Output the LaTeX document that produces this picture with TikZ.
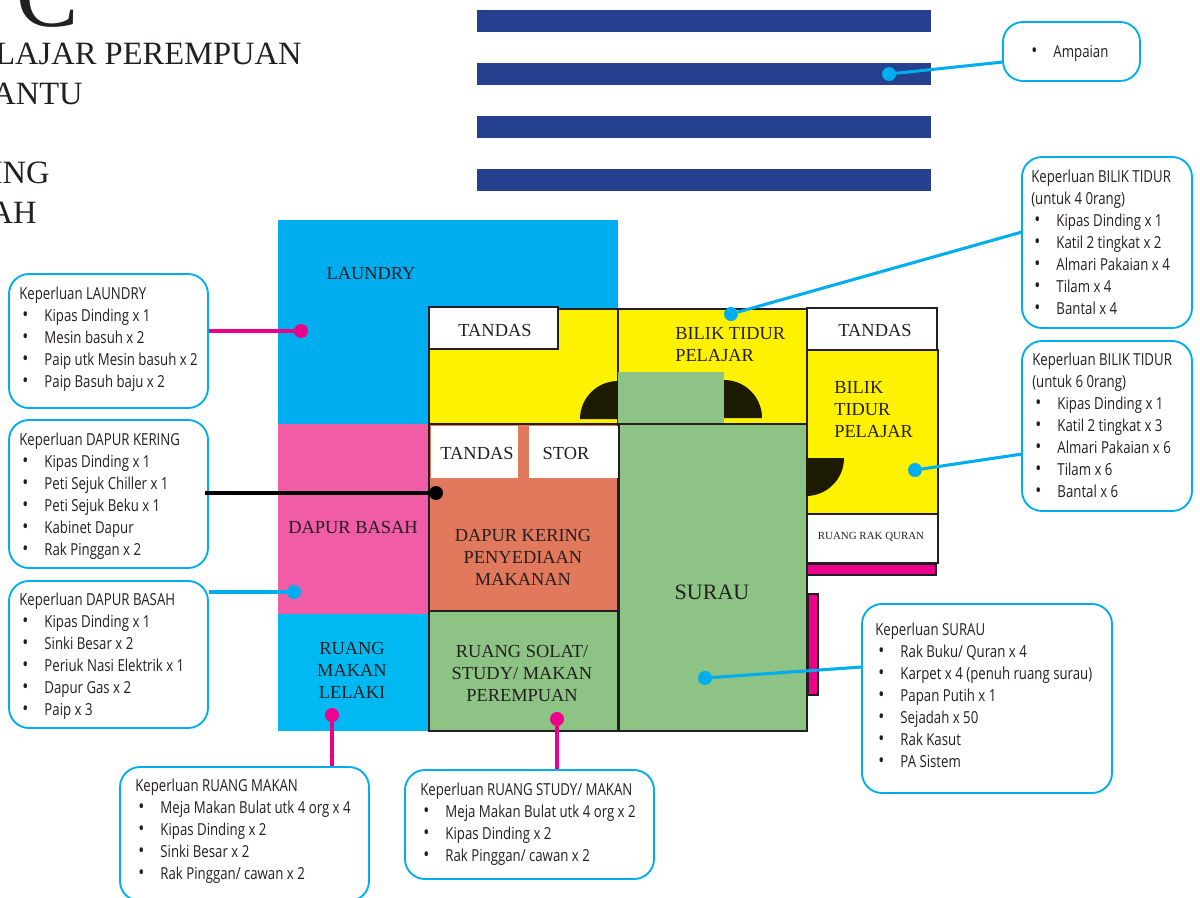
\documentclass[tikz,border=0pt]{standalone}
\usepackage{fontspec}
\setmainfont{Liberation Serif}
\newfontfamily\cond[FakeStretch=0.80]{Open Sans}
\usetikzlibrary{calc}
\definecolor{ink}{HTML}{231F20}
\definecolor{stripe}{HTML}{25408F}
\definecolor{cyanA}{HTML}{00AEEF}
\definecolor{cyanB}{HTML}{00B9F2}
\definecolor{pinkA}{HTML}{F05CA5}
\definecolor{magA}{HTML}{EC008C}
\definecolor{yel}{HTML}{FFF200}
\definecolor{grn}{HTML}{8DC384}
\definecolor{terra}{HTML}{E2795D}
\definecolor{blackish}{HTML}{1C1A00}
\newcommand{\kit}[1]{\makebox[18.9pt][l]{\hspace{2.4pt}{\fontsize{15}{16.5}\selectfont •}}#1}
\newcommand{\callout}[8]{%
  \node[calloutbox,minimum width={(#4-#2)*0.75pt},minimum height={(#5-#3)*0.75pt}] (#1) at ({(#2+#4)/2},{(#3+#5)/2}) {};
  \node[callouttext] (#1t) at (#6,#7) {#8};}
\tikzset{
  room/.style={draw=ink,line width=1.1pt},
  calloutbox/.style={draw=cyanA,line width=1.4pt,rounded corners=15pt,fill=white,inner sep=0pt},
  callouttext/.style={anchor=north west,inner sep=0pt,align=left,text=ink,font=\cond\fontsize{12.4}{16.5}\selectfont},
  lab/.style={inner sep=0pt,align=center,text=ink,font=\fontsize{13.8}{16.5}\selectfont},
  labl/.style={inner sep=0pt,align=left,anchor=west,text=ink,font=\fontsize{13.8}{16.5}\selectfont},
  head/.style={inner sep=0pt,anchor=base east,text=ink,font=\fontsize{24.4}{30}\selectfont},
  dot/.style={circle,inner sep=0pt,minimum size=10.5pt},
  wire/.style={line width=2.3pt},
}
\begin{document}
\begin{tikzpicture}[x=0.75pt,y=-0.75pt]
\useasboundingbox (0,0) rectangle (1200,897);
% title
\node[inner sep=0pt,anchor=base,text=ink,font=\fontsize{70}{70}\selectfont] (bigc) at (48,26) {C};
\node[head] (t1) at (302,64) {LAJAR PEREMPUAN};
\node[head] (t2) at (83,104) {ANTU};
\node[head] (t3) at (50,183) {ING};
\node[head] (t4) at (37,223) {AH};
% stripes
\foreach \y in {10,63,116,169} \fill[stripe] (477,\y) rectangle (931,{\y+22});
% floods
\fill[cyanA] (278,220) rectangle (618,424);
\fill[pinkA] (278,424) rectangle (429,614);
\fill[cyanB] (278,614) rectangle (429,731);
% rooms
\draw[room,fill=yel] (429,309) rectangle (618,424);
\draw[room,fill=yel] (618,309) rectangle (807,424);
\draw[room,fill=white] (429,307) rectangle (558,349);
\fill[blackish] (580,419) arc (180:270:38) -- (618,419) -- cycle;
\fill[blackish] (762,418) arc (0:-90:38) -- (724,418) -- cycle;
\fill[grn] (618,372) rectangle (724,424);
\draw[room,fill=yel] (807,350) rectangle (938,514);
\draw[room,fill=white] (807,308) rectangle (937,350);
\draw[room,fill=white] (807,514) rectangle (938,563);
\draw[room,fill=magA] (807,564) rectangle (936,575);
\draw[room,fill=magA] (808,594) rectangle (818,695);
\draw[room,fill=terra] (429,424) rectangle (618,611);
\fill[white] (431,426) rectangle (518,478);
\fill[white] (529,426) rectangle (618,478);
\draw[room,fill=grn] (429,611) rectangle (618,731);
\draw[room,fill=grn] (619,424) rectangle (807,731);
\fill[blackish] (806,458) -- (844,458) arc (0:90:38) -- cycle;
% room labels
\node[lab] (r1) at (371,274) {LAUNDRY};
\node[lab] (r2) at (495,330) {TANDAS};
\node[labl] (r3) at (675,345) {BILIK TIDUR\\PELAJAR};
\node[lab] (r4) at (875,330) {TANDAS};
\node[labl] (r5) at (834,410) {BILIK\\TIDUR\\PELAJAR};
\node[lab,font=\fontsize{8.2}{10}\selectfont] (r6) at (871,537) {RUANG RAK QURAN};
\node[lab] (r7) at (477,453) {TANDAS};
\node[lab] (r8) at (566,453) {STOR};
\node[lab] (r9) at (353,527) {DAPUR BASAH};
\node[lab] (r10) at (523,557) {DAPUR KERING\\PENYEDIAAN\\MAKANAN};
\node[lab,font=\fontsize{16.5}{20}\selectfont] (r11) at (712,592) {SURAU};
\node[lab] (r12) at (352,670) {RUANG\\MAKAN\\LELAKI};
\node[lab] (r13) at (522,673) {RUANG SOLAT/\\STUDY/ MAKAN\\PEREMPUAN};
% callouts
\callout{cAmp}{1003}{22}{1140}{81}{1028}{45}{\kit{Ampaian}}
\callout{cB4}{1022}{157}{1192}{328}{1031}{170}{Keperluan BILIK TIDUR\\(untuk 4 0rang)\\\kit{Kipas Dinding x 1}\\\kit{Katil 2 tingkat x 2}\\\kit{Almari Pakaian x 4}\\\kit{Tilam x 4}\\\kit{Bantal x 4}}
\callout{cB6}{1022}{341}{1192}{511}{1032}{353}{Keperluan BILIK TIDUR\\(untuk 6 0rang)\\\kit{Kipas Dinding x 1}\\\kit{Katil 2 tingkat x 3}\\\kit{Almari Pakaian x 6}\\\kit{Tilam x 6}\\\kit{Bantal x 6}}
\callout{cSur}{862}{604}{1112}{793}{875}{623}{Keperluan SURAU\\\kit{Rak Buku/ Quran x 4}\\\kit{Karpet x 4 (penuh ruang surau)}\\\kit{Papan Putih x 1}\\\kit{Sejadah x 50}\\\kit{Rak Kasut}\\\kit{PA Sistem}}
\callout{cLau}{9}{274}{208}{408}{19}{287}{Keperluan LAUNDRY\\\kit{Kipas Dinding x 1}\\\kit{Mesin basuh x 2}\\\kit{Paip utk Mesin basuh x 2}\\\kit{Paip Basuh baju x 2}}
\callout{cKer}{9}{420}{208}{568}{19}{433}{Keperluan DAPUR KERING\\\kit{Kipas Dinding x 1}\\\kit{Peti Sejuk Chiller x 1}\\\kit{Peti Sejuk Beku x 1}\\\kit{Kabinet Dapur}\\\kit{Rak Pinggan x 2}}
\callout{cBas}{9}{581}{208}{728}{19}{593}{Keperluan DAPUR BASAH\\\kit{Kipas Dinding x 1}\\\kit{Sinki Besar x 2}\\\kit{Periuk Nasi Elektrik x 1}\\\kit{Dapur Gas x 2}\\\kit{Paip x 3}}
\callout{cMak}{120}{767}{369}{901}{135}{779}{Keperluan RUANG MAKAN\\\kit{Meja Makan Bulat utk 4 org x 4}\\\kit{Kipas Dinding x 2}\\\kit{Sinki Besar x 2}\\\kit{Rak Pinggan/ cawan x 2}}
\callout{cStu}{405}{770}{654}{879}{420}{783}{Keperluan RUANG STUDY/ MAKAN\\\kit{Meja Makan Bulat utk 4 org x 2}\\\kit{Kipas Dinding x 2}\\\kit{Rak Pinggan/ cawan x 2}}
% dots
\node[dot,fill=cyanA] (dAmp) at (889,74) {};
\node[dot,fill=cyanA] (dB4) at (731,314) {};
\node[dot,fill=cyanA] (dB6) at (915,470) {};
\node[dot,fill=cyanA] (dSur) at (705,678) {};
\node[dot,fill=magA] (dLau) at (301,331) {};
\node[dot,fill=black] (dKer) at (436,493) {};
\node[dot,fill=cyanA] (dBas) at (294,592) {};
\node[dot,fill=magA] (dMak) at (332,715) {};
\node[dot,fill=magA] (dStu) at (557,719) {};
% connector ends on the boxes
\coordinate (eAmp) at (1003,62);
\coordinate (eB4) at (1022,232);
\coordinate (eB6) at (1022,454);
\coordinate (eSur) at (862,667);
\coordinate (eKer) at (205,493);
% connectors
\draw[wire,cyanA] (eAmp) -- (dAmp);
\draw[wire,cyanA] (eB4) -- (dB4);
\draw[wire,cyanA] (eB6) -- (dB6);
\draw[wire,cyanA] (eSur) -- (dSur);
\draw[wire,magA] (cLau.east |- dLau) -- (dLau);
\draw[wire,black] (eKer) -- (dKer);
\draw[wire,cyanA] (cBas.east |- dBas) -- (dBas);
\draw[wire,magA] (cMak.north -| dMak) -- (dMak);
\draw[wire,magA] (cStu.north -| dStu) -- (dStu);
\end{tikzpicture}
\end{document}
